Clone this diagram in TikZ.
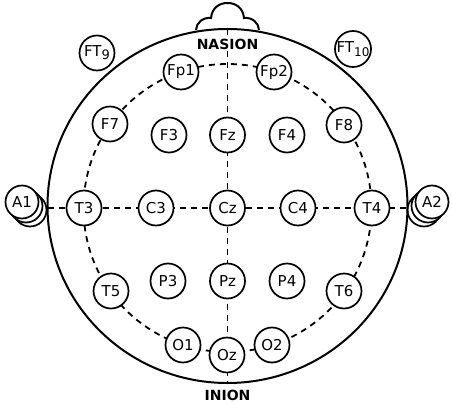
\documentclass[tikz,border=0pt]{standalone}
\usepackage{fontspec}
\setmainfont{DejaVu Sans}
\begin{document}
\begin{tikzpicture}[x=1pt,y=-1pt,
  elec/.style={circle,draw,line width=1.7pt,fill=white,minimum size=35pt,inner sep=0pt,font=\fontsize{15}{15}\selectfont},
  earc/.style={circle,draw,line width=1.7pt,fill=white,minimum size=33pt,inner sep=0pt},
  guide/.style={line width=1.8pt,dash pattern=on 6pt off 5pt},
  headline/.style={line width=2pt},
  lbl/.style={font=\bfseries\fontsize{14}{14}\selectfont,fill=white,inner sep=1.5pt}]
\useasboundingbox (0,0) rectangle (452,404);
% ears (back circles)
\node[earc] (le3) at (30,210) {};
\node[earc] (le2) at (26,206) {};
\node[earc] (re3) at (424,210) {};
\node[earc] (re2) at (428,206) {};
% head
\draw[headline] (227.5,206) ellipse [x radius=180, y radius=177];
% nose
\draw[headline] (196,30) .. controls (196,23) and (203,17) .. (211,18)
  .. controls (212,8) and (219,3) .. (227.5,3)
  .. controls (236,3) and (243,8) .. (244,18)
  .. controls (252,17) and (259,23) .. (259,30);
% guide coordinates
\coordinate (top) at (227.5,29);
\coordinate (bot) at (227.5,383);
\coordinate (lft) at (48,208);
\coordinate (rgt) at (407,208);
\coordinate (ctr) at (227.5,208);
\draw[guide] (top) -- (bot);
\draw[guide] (lft) -- (rgt);
\draw[guide] (ctr) circle[radius=144];
% labels
\node[lbl] (nasion) at (227.5,44) {NASION};
\node[lbl] (inion) at (227.5,395.5) {INION};
% electrodes
\node[elec] (FT9) at (97,53) {FT\raisebox{-3pt}{\fontsize{13}{13}\selectfont 9}};
\node[elec] (FT10) at (353,49) {FT\raisebox{-4pt}{\fontsize{12}{12}\selectfont 10}};
\node[elec] (Fp1) at (181,72) {Fp1};
\node[elec] (Fp2) at (274,72) {Fp2};
\node[elec] (F7) at (110,124) {F7};
\node[elec] (F3) at (169,135) {F3};
\node[elec] (Fz) at (227.5,135) {Fz};
\node[elec] (F4) at (287,135) {F4};
\node[elec] (F8) at (344,125) {F8};
\node[earc,font=\fontsize{15}{15}\selectfont] (A1) at (22,202) {A1};
\node[elec] (T3) at (84,208) {T3};
\node[elec] (C3) at (156,208) {C3};
\node[elec] (Cz) at (227.5,208) {Cz};
\node[elec] (C4) at (298,208) {C4};
\node[elec] (T4) at (372,208) {T4};
\node[earc,font=\fontsize{15}{15}\selectfont] (A2) at (432,202) {A2};
\node[elec] (T5) at (111,291) {T5};
\node[elec] (P3) at (168,281) {P3};
\node[elec] (Pz) at (227.5,281) {Pz};
\node[elec] (P4) at (287,281) {P4};
\node[elec] (T6) at (344,291) {T6};
\node[elec] (O1) at (183,345) {O1};
\node[elec] (Oz) at (227,355) {Oz};
\node[elec] (O2) at (272,345) {O2};
\end{tikzpicture}
\end{document}
